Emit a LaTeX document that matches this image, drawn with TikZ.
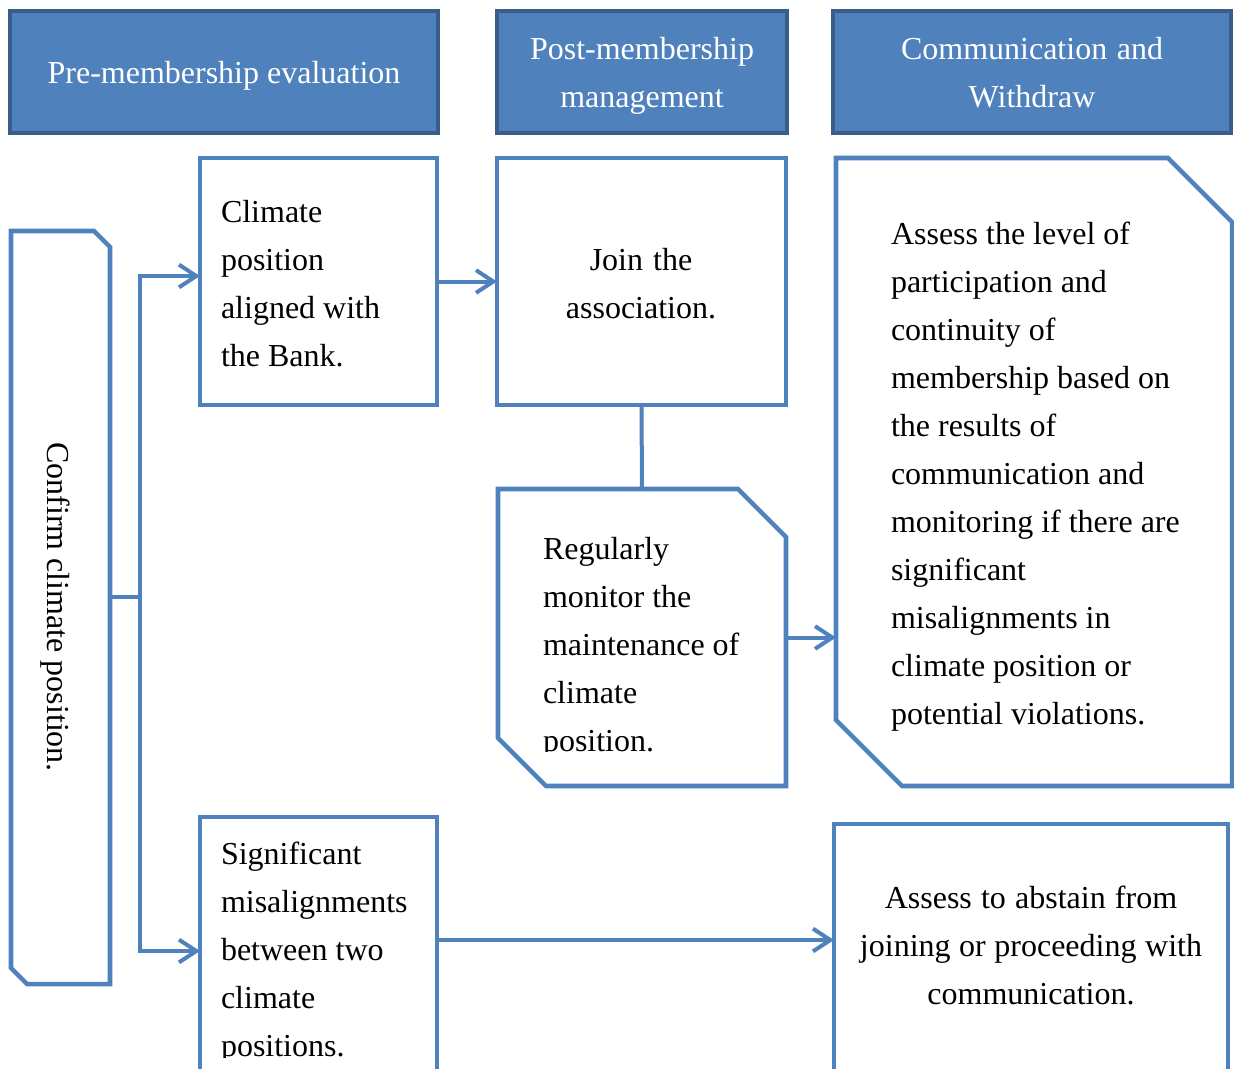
\documentclass[tikz,border=0pt]{standalone}
\usepackage{fontspec}
\setmainfont{Liberation Serif}
\usetikzlibrary{arrows.meta,fit,calc}
\definecolor{boxblue}{RGB}{79,129,189}
\definecolor{hdrline}{RGB}{56,93,138}
\newcommand\tightsp{\spaceskip=0.25em plus 0.05em\relax\xspaceskip=0.25em plus 0.05em\relax}
\begin{document}
\begin{tikzpicture}[x=0.75pt,y=-0.75pt,
  txt/.style={font=\fontsize{24}{36}\selectfont, inner sep=0pt, outer sep=0pt},
  boxframe/.style={draw=boxblue, line width=3.4pt},
  hdr/.style={fill=boxblue, draw=hdrline, line width=3.6pt},
  conn/.style={draw=boxblue, line width=3pt},
  arr/.style={conn, -{Straight Barb[length=13pt,width=17pt,line width=3pt]}},
  area/.style={inner sep=0pt, outer sep=0pt}]
\useasboundingbox (0,0) rectangle (1234,1068);
\clip (0,0) rectangle (1234,1068);

% headers
\node[fit={(10,11) (438,133)}, area, hdr] (h1) {};
\node[fit={(497,11) (787,133)}, area, hdr] (h2) {};
\node[fit={(833,11) (1231,133)}, area, hdr] (h3) {};
\node[txt, text=white, anchor=base] (t1) at (224,83) {Pre-membership evaluation};
\node[txt, text=white, anchor=base, text width=220pt, align=center] (t2) at (642,59) {\tightsp Post-membership\\management};
\node[txt, text=white, anchor=base, text width=290pt, align=center] (t3) at (1032,59) {\tightsp Communication and\\Withdraw};

% left chamfered box
\node[fit={(11,231) (110,984)}, area] (L) {};
\draw[boxframe] (11,231) -- (94,231) -- (110,247) -- (110,984) -- (27,984) -- (11,968) -- cycle;
\node[txt, rotate=-90, anchor=base] (tL) at (47,607) {Confirm climate position.};

% box A
\node[fit={(200,158) (437,405)}, area, boxframe] (A) {};
\node[txt, anchor=base west, text width=170pt, align=left] (tA) at (221,222) {\tightsp Climate\\position\\aligned with\\the Bank.};

% box B
\node[fit={(497,158) (786,405)}, area, boxframe] (B) {};
\node[txt, anchor=base, text width=200pt, align=center] (tB) at (641,270) {\tightsp Join the\\association.};

% box C (chamfered)
\node[fit={(498,489) (786,786)}, area] (C) {};
\draw[boxframe] (498,489) -- (738,489) -- (786,537) -- (786,786) -- (546,786) -- (498,738) -- cycle;
\begin{scope}
\clip (498,489) rectangle (786,751);
\node[txt, anchor=base west, text width=200pt, align=left] (tC) at (543,559) {\tightsp Regularly\\monitor the\\maintenance of\\climate\\position.};
\end{scope}

% box D (chamfered)
\node[fit={(836,158) (1232,786)}, area] (D) {};
\draw[boxframe] (836,158) -- (1168,158) -- (1232,222) -- (1232,786) -- (902,786) -- (836,720) -- cycle;
\node[txt, anchor=base west, text width=250pt, align=left] (tD) at (891,244) {\tightsp Assess the level of\\participation and\\continuity of\\membership based on\\the results of\\communication and\\monitoring if there are\\significant\\misalignments in\\climate position or\\potential violations.};

% box E
\node[fit={(200,817) (437,1100)}, area, boxframe] (E) {};
\begin{scope}
\clip (200,817) rectangle (437,1057);
\node[txt, anchor=base west, text width=170pt, align=left] (tE) at (221,864) {\tightsp Significant\\misalignments\\between two\\climate\\positions.};
\end{scope}

% box F
\node[fit={(834,824) (1228,1100)}, area, boxframe] (F) {};
\node[txt, anchor=base, text width=290pt, align=center] (tF) at (1031,908) {\tightsp Assess to abstain from\\joining or proceeding with\\communication.};

% connectors
\coordinate (tj) at (140,597);
\coordinate (ta) at (140,276);
\coordinate (te) at (140,951);
\coordinate (ef) at (0,940);
\draw[conn] (L.east |- tj) -- (tj);
\draw[arr] (tj) |- (ta -| A.west);
\draw[arr] (tj) |- (te -| E.west);
\draw[arr] (A.east) -- (B.west);
\draw[conn] (B.south) -- (C.north);
\draw[arr] (C.east) -- (C.east -| D.west);
\draw[arr] (E.east |- ef) -- (F.west |- ef);
\end{tikzpicture}
\end{document}
